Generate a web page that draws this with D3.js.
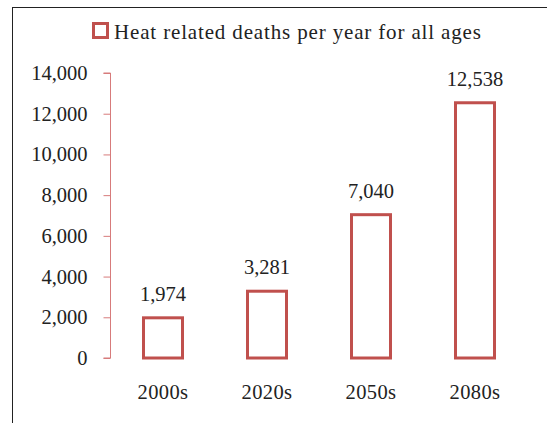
<!DOCTYPE html>
<html>
<head>
<meta charset="utf-8">
<script src="https://cdn.jsdelivr.net/npm/d3@7/dist/d3.min.js"></script>
<style>
  html, body { margin: 0; padding: 0; background: #fff; }
  svg text { font-family: "Liberation Serif", "DejaVu Serif", serif; fill: #222; }
</style>
</head>
<body>
<svg id="chart" width="547" height="423"></svg>
<script>
// Heat related deaths per year, by decade
const categories = ["2000s", "2020s", "2050s", "2080s"];
const deaths = [1974, 3281, 7040, 12538];
const yTicks = [0, 2000, 4000, 6000, 8000, 10000, 12000, 14000];
const seriesName = "Heat related deaths per year for all ages";

const red = "#c0504d";
const axisRed = "#d77b7b";
const fmt = d3.format(",");

const svg = d3.select("#chart");

// outer frame (extends past the visible area on the right and bottom)
svg.append("rect")
  .attr("x", 12.5).attr("y", 7.5)
  .attr("width", 600).attr("height", 500)
  .attr("fill", "none").attr("stroke", "#222").attr("stroke-width", 1);

const y = d3.scaleLinear().domain([0, 14000]).range([358, 73]);
const x = d3.scaleBand().domain(categories)
  .range([111, 527]).paddingInner(0.625).paddingOuter(0.3125);

// y axis
const yAxis = svg.append("g")
  .attr("transform", "translate(110.5,0)")
  .call(d3.axisLeft(y).tickValues(yTicks).tickFormat(fmt).tickSize(7).tickPadding(16));
yAxis.select(".domain").attr("stroke", axisRed).attr("d", `M-7,${y(14000)}H0V${y(0)}H-7`);
yAxis.selectAll(".tick line").attr("stroke", axisRed);
yAxis.selectAll(".tick text")
  .attr("font-size", 20.5).attr("fill", "#222")
  .style("font-family", '"Liberation Serif", serif');

// bars
svg.append("g").selectAll("rect")
  .data(deaths)
  .join("rect")
  .attr("x", (d, i) => x(categories[i]))
  .attr("y", d => y(d))
  .attr("width", x.bandwidth())
  .attr("height", d => y(0) - y(d))
  .attr("fill", "none")
  .attr("stroke", red)
  .attr("stroke-width", 3);

// value labels
svg.append("g").selectAll("text")
  .data(deaths)
  .join("text")
  .attr("x", (d, i) => x(categories[i]) + x.bandwidth() / 2)
  .attr("y", d => y(d) - 17)
  .attr("text-anchor", "middle")
  .attr("font-size", 20.5)
  .text(d => fmt(d));

// category labels
svg.append("g").selectAll("text")
  .data(categories)
  .join("text")
  .attr("x", d => x(d) + x.bandwidth() / 2)
  .attr("y", 399)
  .attr("text-anchor", "middle")
  .attr("font-size", 20.5)
  .attr("letter-spacing", 0.4)
  .text(d => d);

// legend
const legend = svg.append("g");
legend.append("rect")
  .attr("x", 93.5).attr("y", 23.5).attr("width", 14).attr("height", 14)
  .attr("fill", "none").attr("stroke", red).attr("stroke-width", 3);
legend.append("text")
  .attr("x", 114).attr("y", 38.5)
  .attr("font-size", 21)
  .attr("letter-spacing", 0.85)
  .text(seriesName);
</script>
</body>
</html>
